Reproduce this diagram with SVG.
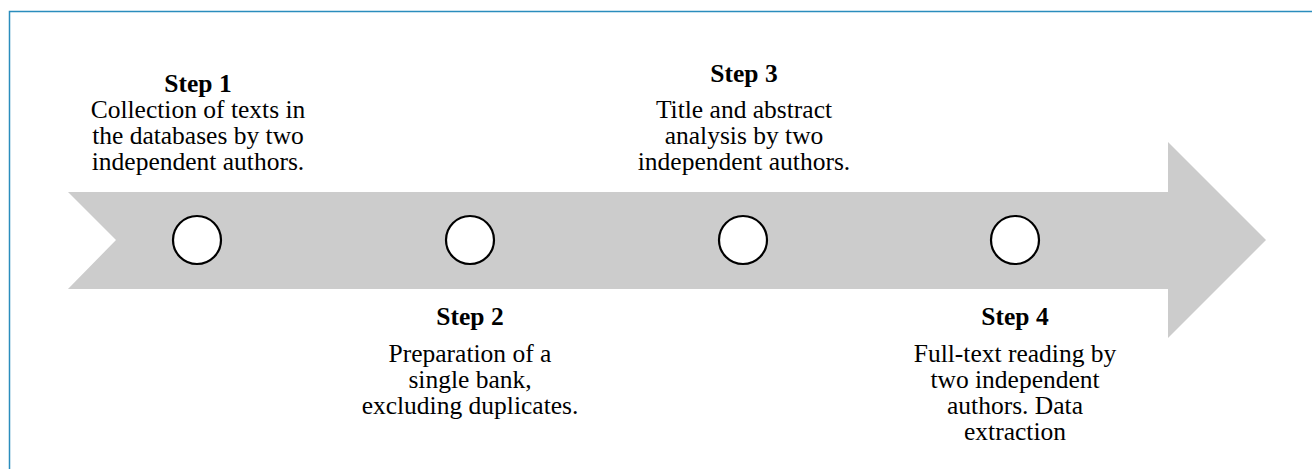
<svg xmlns="http://www.w3.org/2000/svg" width="1312" height="469" viewBox="0 0 1312 469">
<style>
.frame{fill:none;stroke:#2a8dbd;stroke-width:1.5}
.arrow{fill:#cccccc;stroke:none}
.dot{fill:#ffffff;stroke:#000000;stroke-width:2.2}
text{font-family:"Liberation Serif","Times New Roman",serif;font-size:25.5px;fill:#000000;text-anchor:middle}
.h{font-weight:bold}
</style>
<rect width="1312" height="469" fill="#ffffff"/>
<path class="frame" d="M9.5,469 V11.5 H1312"/>
<g id="arrow">
<polygon class="arrow" points="68,192 1168,192 1168,142 1266,240 1168,338 1168,289 68,289 116,240"/>
</g>
<g id="connectors"></g>
<g id="step1">
<circle class="dot" cx="197" cy="240" r="24"/>
<text x="198" y="92" class="h">Step 1</text>
<text x="198" y="118">Collection of texts in</text>
<text x="198" y="144">the databases by two</text>
<text x="198" y="170">independent authors.</text>
</g>
<g id="step2">
<circle class="dot" cx="470" cy="240" r="24"/>
<text x="470" y="325" class="h">Step 2</text>
<text x="470" y="362">Preparation of a</text>
<text x="470" y="388">single bank,</text>
<text x="470" y="414">excluding duplicates.</text>
</g>
<g id="step3">
<circle class="dot" cx="743" cy="240" r="24"/>
<text x="744" y="82" class="h">Step 3</text>
<text x="744" y="118">Title and abstract</text>
<text x="744" y="144">analysis by two</text>
<text x="744" y="170">independent authors.</text>
</g>
<g id="step4">
<circle class="dot" cx="1015" cy="240" r="24"/>
<text x="1015" y="325" class="h">Step 4</text>
<text x="1015" y="362">Full-text reading by</text>
<text x="1015" y="388">two independent</text>
<text x="1015" y="414">authors. Data</text>
<text x="1015" y="440">extraction</text>
</g>
</svg>
